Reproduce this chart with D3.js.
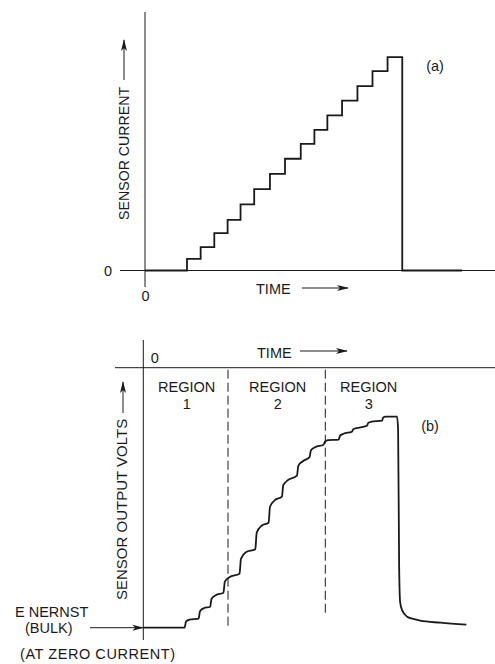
<!DOCTYPE html>
<html>
<head>
<meta charset="utf-8">
<script src="https://cdn.jsdelivr.net/npm/d3@7"></script>
<style>
  html, body { margin: 0; padding: 0; background: #fff; }
  text { font-family: "Liberation Sans", Arial, sans-serif; fill: #1a1a1a; }
</style>
</head>
<body>
<svg id="chart" width="495" height="664"></svg>
<script>
// ---------- DATA ----------
// Panel (a): stepped sensor current (arbitrary units) vs time (arbitrary units)
const currentTimes  = [0, 12.0, 15.9, 19.8, 23.6, 27.3, 31.2, 35.7, 40.0, 44.5, 48.4, 52.1, 56.3, 60.7, 65.0, 69.3, 73.5, 90.6];
const currentLevels = [0, 0.82, 1.64, 2.63, 3.57, 4.65, 5.73, 6.81, 7.87, 8.92, 9.91, 10.92, 11.97, 12.98, 14.04, 15.02, 0, 0];

// Panel (b): sensor output volts (arbitrary units above E Nernst) vs time
const voltTimes  = [0, 11.8, 12.2, 13.2, 15.8, 16.2, 17.3, 19.1, 19.5, 20.7, 22.9, 23.3, 24.6, 27.5, 27.9, 29.3, 32.0, 32.4, 33.8, 35.8, 36.2, 37.6, 39.6, 40.0, 41.3, 43.9, 44.3, 45.6, 47.5, 47.9, 49.1, 51.5, 51.9, 52.8, 55.8, 56.2, 57.2, 59.6, 60.0, 60.9, 63.9, 64.3, 65.2, 68.2, 68.5, 69.2, 72.5, 72.8, 73.1, 73.4, 74.0, 75.4, 77.4, 79.1, 84.9, 92.3];
const voltValues = [0, 0,    0.6,  0.8,  0.9,  1.65, 1.95, 2.1,  2.9,  3.25, 3.5,  4.6,  5.05, 5.4,  6.9,  7.55, 7.85, 9.5,  10.2, 10.5, 12.1, 12.75, 13.1, 14.25, 14.75, 15.2, 16.2, 16.65, 17.05, 17.75, 18.05, 18.3, 18.6, 18.75, 18.8, 19.2, 19.4, 19.6, 19.85, 19.95, 20.2, 20.5, 20.6, 20.7, 21.0, 21.1, 21.1, 19.8, 6.0, 2.5, 1.7, 1.1, 0.85, 0.7, 0.5, 0.3];

// Region boundaries (time) and labels
const regionBounds = [24.2, 52.0];
const regionBoundBottoms = [0.1, 1.1];
const regionLabels = [["REGION", "1"], ["REGION", "2"], ["REGION", "3"]];
const regionCenters = [12.4, 38.4, 64.4];

const zeroTick = [0];

// ---------- DRAW ----------
const svg = d3.select("#chart");
svg.append("rect").attr("width", 495).attr("height", 664).attr("fill", "#fff");

const ink = "#1a1a1a";
const FS = 14.5;   // horizontal text size
const defs = svg.append("defs");
defs.append("marker")
  .attr("id", "arrow").attr("viewBox", "0 -4 12 8")
  .attr("refX", 11).attr("refY", 0)
  .attr("markerWidth", 12).attr("markerHeight", 8)
  .attr("markerUnits", "userSpaceOnUse")
  .attr("orient", "auto")
  .append("path").attr("d", "M0,-3L12,0L0,3L3,0Z").attr("fill", ink);

function line(g, x1, y1, x2, y2, w, arrow, dash) {
  const l = g.append("line").attr("x1", x1).attr("y1", y1).attr("x2", x2).attr("y2", y2)
    .attr("stroke", ink).attr("stroke-width", w || 1);
  if (arrow) l.attr("marker-end", "url(#arrow)");
  if (dash) l.attr("stroke-dasharray", dash);
  return l;
}
function label(g, x, y, s, anchor, size) {
  return g.append("text").attr("x", x).attr("y", y).attr("text-anchor", anchor || "start")
    .attr("font-size", size || FS).text(s);
}
function styleTicks(g) {
  g.select(".domain").remove();
  g.selectAll("text").attr("font-size", FS).attr("font-family", null).attr("fill", ink);
}

// ===== Panel (a) =====
const xA = d3.scaleLinear().domain([0, 100]).range([145, 495]);
const yA = d3.scaleLinear().domain([0, 16]).range([270.5, 43.3]);
const gA = svg.append("g");

line(gA, xA(0), 12, xA(0), 287, 1);
line(gA, 120, yA(0), 495, yA(0), 1);

gA.append("g").attr("transform", `translate(${xA(0)},0)`)
  .call(d3.axisLeft(yA).tickValues(zeroTick).tickSize(0).tickPadding(33).tickSizeOuter(0))
  .call(styleTicks);
gA.append("g").attr("transform", `translate(0,${yA(0)})`)
  .call(d3.axisBottom(xA).tickValues(zeroTick).tickSize(0).tickPadding(20).tickSizeOuter(0))
  .call(styleTicks);

const stepLine = d3.line().x((d, i) => xA(currentTimes[i])).y((d, i) => yA(currentLevels[i])).curve(d3.curveStepAfter);
gA.append("path").attr("d", stepLine(currentTimes)).attr("fill", "none").attr("stroke", ink).attr("stroke-width", 1.8);

label(gA, 256, 293.5, "TIME");
line(gA, 302, 288, 348, 288, 1, true);
gA.append("text").attr("transform", "translate(124,220) rotate(-90)").attr("dy", "0.35em")
  .attr("font-size", 14.2).text("SENSOR CURRENT");
line(gA, 124, 80, 124, 40, 1, true);
label(gA, 435, 70.5, "(a)", "middle");

// ===== Panel (b) =====
const xB = d3.scaleLinear().domain([0, 100]).range([143.3, 493.3]);
const yB = d3.scaleLinear().domain([0, 26]).range([627.7, 367.7]);
const gB = svg.append("g");

line(gB, xB(0), 340, xB(0), 640, 1);
line(gB, 115, yB(26), 495, yB(26), 1);

gB.append("g").attr("transform", `translate(0,${yB(26)})`)
  .call(d3.axisTop(xB).tickValues(zeroTick).tickSize(0).tickPadding(5).tickSizeOuter(0))
  .call(styleTicks)
  .call(g => g.selectAll("text").attr("text-anchor", "start").attr("dx", 7));

label(gB, 257, 357.5, "TIME");
line(gB, 300, 351, 347, 351, 1, true);

regionBounds.forEach((t, i) => {
  line(gB, xB(t), yB(26) + 2, xB(t), yB(regionBoundBottoms[i]), 1, false, "9,4");
});
regionLabels.forEach((lbl, i) => {
  label(gB, xB(regionCenters[i]), 392, lbl[0], "middle");
  label(gB, xB(regionCenters[i]), 408.5, lbl[1], "middle");
});

const vLine = d3.line().x((d, i) => xB(voltTimes[i])).y((d, i) => yB(voltValues[i])).curve(d3.curveMonotoneX);
gB.append("path").attr("d", vLine(voltTimes)).attr("fill", "none").attr("stroke", ink).attr("stroke-width", 1.8);

label(gB, 430, 430.5, "(b)", "middle");

gB.append("text").attr("transform", "translate(121.5,600) rotate(-90)").attr("dy", "0.35em")
  .attr("font-size", 15).text("SENSOR OUTPUT VOLTS");
line(gB, 123, 413, 123, 382, 1, true);

label(gB, 15, 616.5, "E NERNST");
label(gB, 25, 633, "(BULK)");
line(gB, 90, yB(0), xB(0), yB(0), 1, true);
label(gB, 20, 659, "(AT ZERO CURRENT)").attr("textLength", 155).attr("lengthAdjust", "spacing");
</script>
</body>
</html>
